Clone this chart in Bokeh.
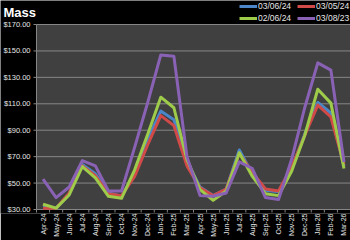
from bokeh.plotting import figure
from bokeh.models import Range1d, FixedTicker, Legend, LegendItem, Label
from bokeh.embed import file_html
from bokeh.resources import INLINE

months = ["Apr-24", "May-24", "Jun-24", "Jul-24", "Aug-24", "Sep-24", "Oct-24",
          "Nov-24", "Dec-24", "Jan-25", "Feb-25", "Mar-25", "Apr-25", "May-25",
          "Jun-25", "Jul-25", "Aug-25", "Sep-25", "Oct-25", "Nov-25", "Dec-25",
          "Jan-26", "Feb-26", "Mar-26"]

s_030624 = [32, 31, 42, 64, 57, 42.5, 40, 57, 83, 104.5, 98, 66,
            47, 40.5, 45.5, 75, 57, 44.5, 43.5, 61, 87, 111, 103, 63]
s_030524 = [31, 31, 42.5, 63, 55.5, 42, 40.5, 55, 79, 101, 93.5, 63,
            46.5, 40.5, 45.5, 72.5, 58, 45.5, 44, 62, 86, 109, 100, 64]
s_020624 = [34, 31, 41, 62.5, 54, 40, 38.5, 60, 87, 115, 107, 68,
            45, 37, 44, 73, 55, 42, 40.5, 59, 86, 121, 110.5, 61]
s_030823 = [53, 39, 47, 67, 63, 44, 44, 77, 111, 147, 146, 70,
            40.5, 40, 42.5, 66, 61, 39, 37.5, 68, 107, 141, 135.5, 66]

series_names = ["03/06/24", "03/05/24", "02/06/24", "03/08/23"]
series_vals = [s_030624, s_030524, s_020624, s_030823]
series_colors = ["#4A86C8", "#D24A48", "#9ECB4A", "#8A62B5"]

y_ticks = [30, 50, 70, 90, 110, 130, 150, 170]
y_tick_labels = ["$30.00", "$50.00", "$70.00", "$90.00", "$110.00",
                 "$130.00", "$150.00", "$170.00"]

title_text = "Mass"

# ---- layout geometry (pixels) ----
W, H = 350, 240
plot_left, plot_top, plot_bottom = 36, 24, 209
frame_bottom = 213
n = len(months)
y_min, y_max = y_ticks[0], y_ticks[-1]
px_per_x = (W - plot_left) / n
px_per_y = (plot_bottom - plot_top) / (y_max - y_min)
x_lo, x_hi = -0.5, n - 0.5
x_start = x_lo - plot_left / px_per_x
y_end = y_max + plot_top / px_per_y
y_start = y_min - (frame_bottom - plot_bottom) / px_per_y

xs = list(range(n))

p = figure(width=W, height=H, output_backend="svg", toolbar_location=None,
           x_range=Range1d(x_start, x_hi), y_range=Range1d(y_start, y_end),
           y_axis_location=None,
           min_border_left=0, min_border_right=0, min_border_top=0,
           min_border_bottom=H - frame_bottom)
p.border_fill_color = "black"
p.background_fill_color = "black"
p.outline_line_color = None
p.xgrid.grid_line_color = None
p.ygrid.grid_line_color = None

axis_col = "#868686"

# plot area
p.quad(left=[x_lo], right=[x_hi], bottom=[y_min], top=[y_max],
       fill_color="#404040", line_color=None)
# gridlines
p.segment(x0=[x_lo] * len(y_ticks), x1=[x_hi] * len(y_ticks), y0=y_ticks, y1=y_ticks,
          line_color=axis_col, line_width=1)
# y axis line + ticks
p.segment(x0=[x_lo], x1=[x_lo], y0=[y_min], y1=[y_max], line_color=axis_col, line_width=1)
tick_len_x = 3 / px_per_x
p.segment(x0=[x_lo - tick_len_x] * len(y_ticks), x1=[x_lo] * len(y_ticks),
          y0=y_ticks, y1=y_ticks, line_color=axis_col, line_width=1)
# x axis ticks at category boundaries
bounds = [i - 0.5 for i in range(n + 1)]
tick_len_y = 3 / px_per_y
p.segment(x0=bounds, x1=bounds, y0=[y_min] * len(bounds),
          y1=[y_min - tick_len_y] * len(bounds), line_color=axis_col, line_width=1)

font = "Liberation Sans"
txt_col = "#E6E6E6"

# y labels
p.text(x=[x_lo] * len(y_ticks), y=y_ticks, text=y_tick_labels, x_offset=-6,
       text_align="right", text_baseline="middle", text_font_size="7.5px",
       text_font={"value": font}, text_color=txt_col)

renderers = []
for name, vals, col in zip(series_names, series_vals, series_colors):
    r = p.line(xs, vals, line_color=col, line_width=3, line_join="round")
    renderers.append(r)

# x axis labels
p.xaxis.ticker = FixedTicker(ticks=xs, minor_ticks=[])
p.xaxis.major_label_overrides = {i: m for i, m in enumerate(months)}
p.xaxis.major_label_orientation = 3.14159265 / 2
p.xaxis.major_tick_out = 0
p.xaxis.major_tick_in = 0
p.xaxis.minor_tick_out = 0
p.xaxis.minor_tick_in = 0
p.xaxis.axis_line_color = None
p.xaxis.major_label_text_font = font
p.xaxis.major_label_text_font_size = "7px"
p.xaxis.major_label_text_color = txt_col
p.xaxis.major_label_standoff = 0

# title
p.add_layout(Label(x=3, y=frame_bottom - 4, x_units="screen", y_units="screen",
                   text=title_text, text_font=font, text_font_style="bold",
                   text_font_size="13px", text_color="white", text_baseline="top"))

# legend (two rows)
def mk_legend(items, loc):
    return Legend(items=items, location=loc, orientation="horizontal",
                  border_line_color=None, background_fill_alpha=0,
                  padding=0, margin=0, spacing=6, glyph_width=18, glyph_height=10,
                  label_standoff=1, label_height=10, label_width=33,
                  label_text_font=font, label_text_font_size="8.5px",
                  label_text_color=txt_col)

lg1 = mk_legend([LegendItem(label=series_names[0], renderers=[renderers[0]]),
                 LegendItem(label=series_names[1], renderers=[renderers[1]])],
                (239, frame_bottom - 11))
lg2 = mk_legend([LegendItem(label=series_names[2], renderers=[renderers[2]]),
                 LegendItem(label=series_names[3], renderers=[renderers[3]])],
                (239, frame_bottom - 23))
p.add_layout(lg1)
p.add_layout(lg2)

open("out.html", "w").write(file_html(p, INLINE))
